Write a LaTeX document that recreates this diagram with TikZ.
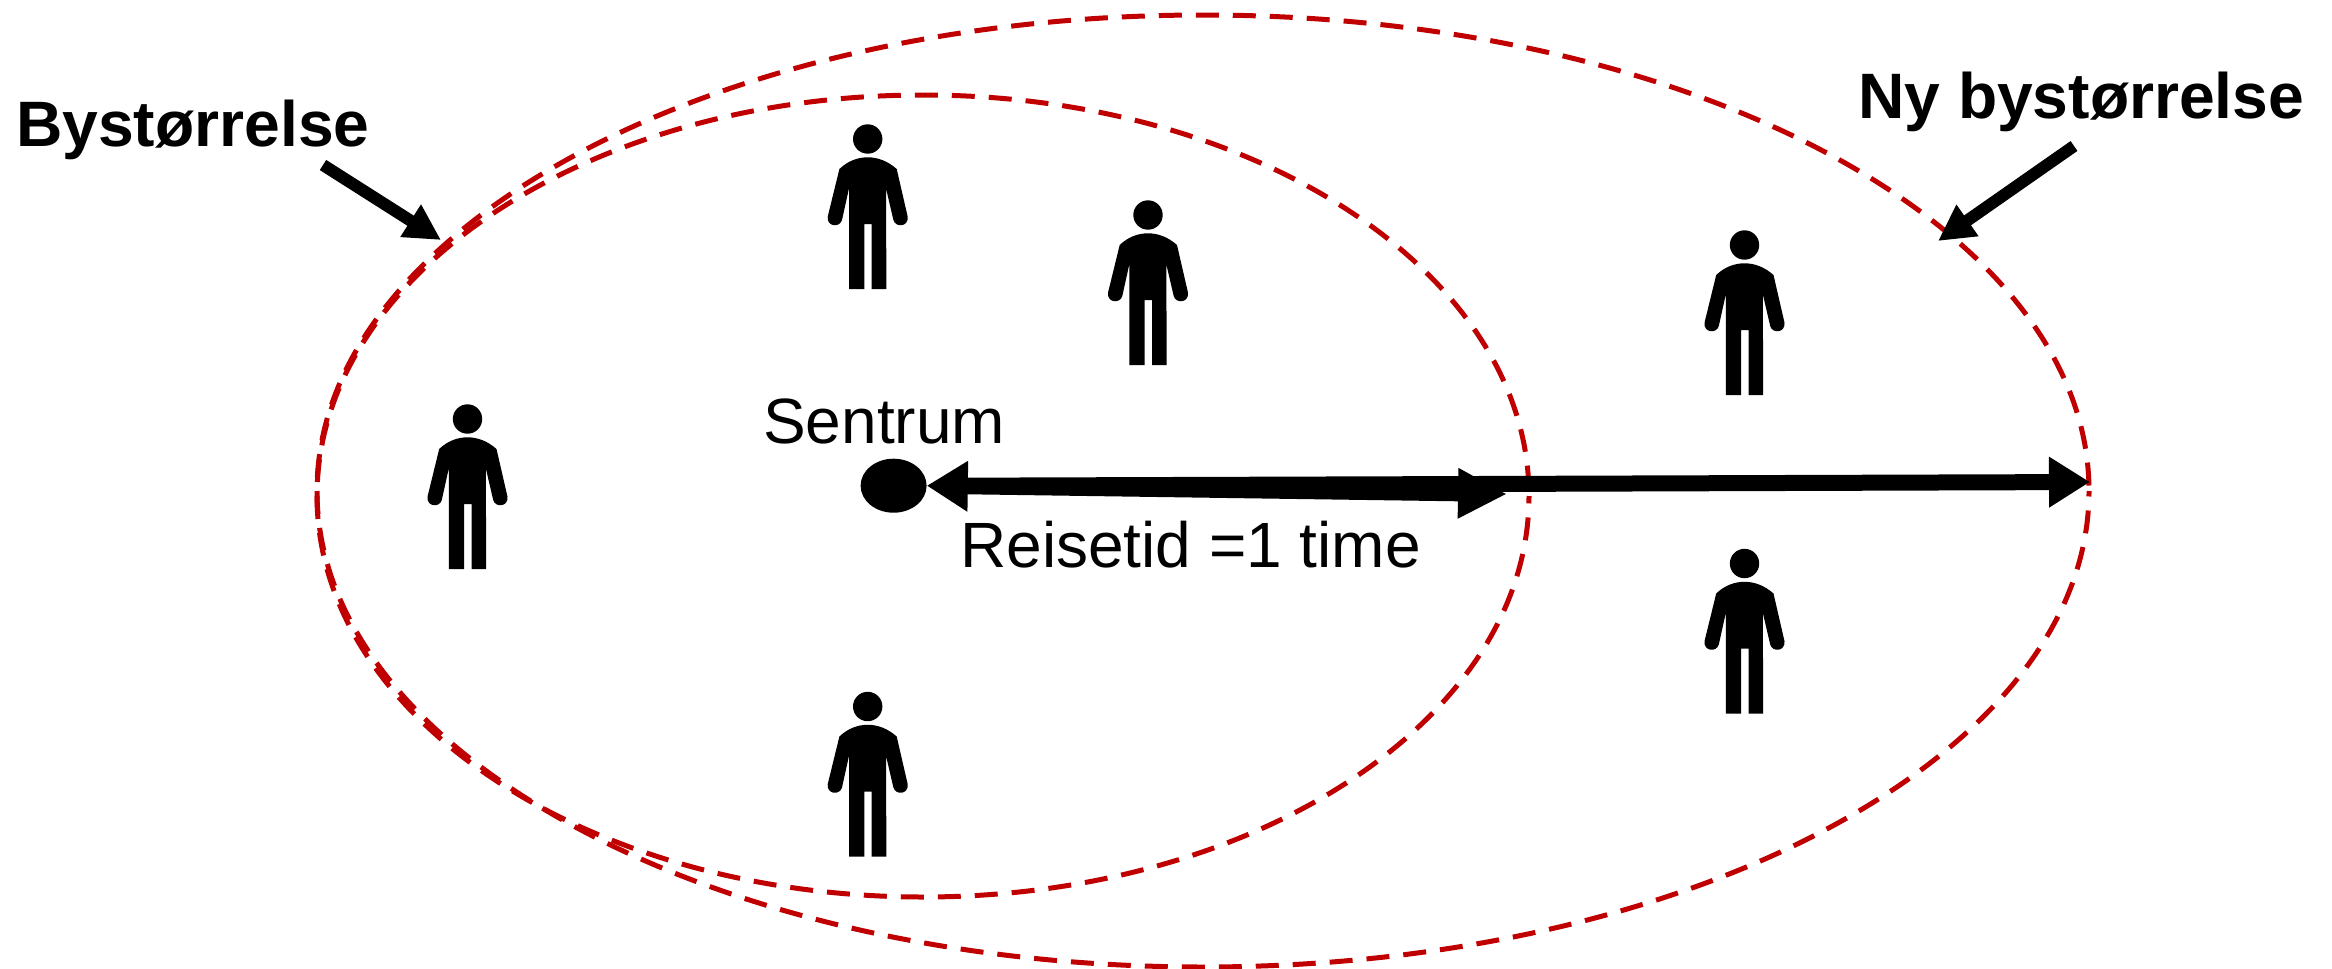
\documentclass[tikz,border=0pt]{standalone}
\usepackage{fontspec}
\setmainfont{Liberation Sans}
\usetikzlibrary{arrows.meta,shapes.geometric}
\definecolor{cityred}{HTML}{C00000}
\tikzset{
  citybound/.style={draw=cityred,line width=5pt,dash pattern=on 23pt off 14pt},
  boldlabel/.style={anchor=base west,inner sep=0pt,font=\fontsize{64.2}{70}\selectfont\bfseries},
  plainlabel/.style={anchor=base west,inner sep=0pt,font=\fontsize{64}{70}\selectfont},
  bigtip/.tip={Triangle[length=41pt,width=48pt]},
  longtip/.tip={Triangle[length=49pt,width=47pt]},
  pointer/.style={line width=12pt,-{Triangle[length=36pt,width=36pt]}},
  span/.style={line width=16pt},
  person/.pic={
    \fill (0,0) circle[radius=14.7];
    \fill (-28.3,30) .. controls (-20,22) and (-10,18.3) .. (0,18.3)
      .. controls (10,18.3) and (20,22) .. (29,30)
      -- (40,77.7) .. controls (41,88) and (28,89) .. (25.7,81)
      -- (18.3,49.3) -- (18.7,150) -- (4,150) -- (4,85) -- (-3.3,85) -- (-3.3,150) -- (-18.7,150) -- (-18.7,49.3)
      -- (-25.7,81) .. controls (-28,89) and (-41,88) .. (-40,77.7) -- cycle;
  }
}
\begin{document}
\begin{tikzpicture}[x=1pt,y=-1pt]
\useasboundingbox[fill=white] (0,0) rectangle (2332,969);
% city limits: each ellipse in two halves, starting together at the left
\draw[citybound] (317,496) arc[start angle=180,end angle=0,x radius=606,y radius=401];
\draw[citybound,dash phase=23pt] (317,496) arc[start angle=180,end angle=360,x radius=606,y radius=401];
\draw[citybound] (317,491) arc[start angle=180,end angle=0,x radius=886,y radius=476];
\draw[citybound,dash phase=23pt] (317,491) arc[start angle=180,end angle=360,x radius=886,y radius=476];
% people
\pic at (867.7,139) {person};
\pic at (1148,215) {person};
\pic at (1744.5,245) {person};
\pic at (467.5,419) {person};
\pic at (1744.5,563.5) {person};
\pic at (867.7,706.5) {person};
% centre
\node[draw=none,fill=black,ellipse,minimum width=66pt,minimum height=54pt,inner sep=0pt] (dot) at (893.6,485.7) {};
\coordinate (oldedge) at (1507,494);
\coordinate (newedge) at (2090,482);
\draw[span,-bigtip] ([xshift=30pt]dot.east) -- (newedge);
\draw[span,bigtip-longtip] (dot.east) -- (oldedge);
% labels
\node[plainlabel] (sentrum) at (763,443) {Sentrum};
\node[plainlabel] (reise) at (960,567) {Reisetid =1 time};
\node[boldlabel] (by) at (16,146) {Bystørrelse};
\node[boldlabel] (ny) at (1858,118) {Ny bystørrelse};
% pointers
\coordinate (bystart) at (323,165);
\coordinate (bytip) at (441,240);
\coordinate (nystart) at (2074,146);
\coordinate (nytip) at (1938,241);
\draw[pointer] (bystart) -- (bytip);
\draw[pointer] (nystart) -- (nytip);
\end{tikzpicture}
\end{document}
